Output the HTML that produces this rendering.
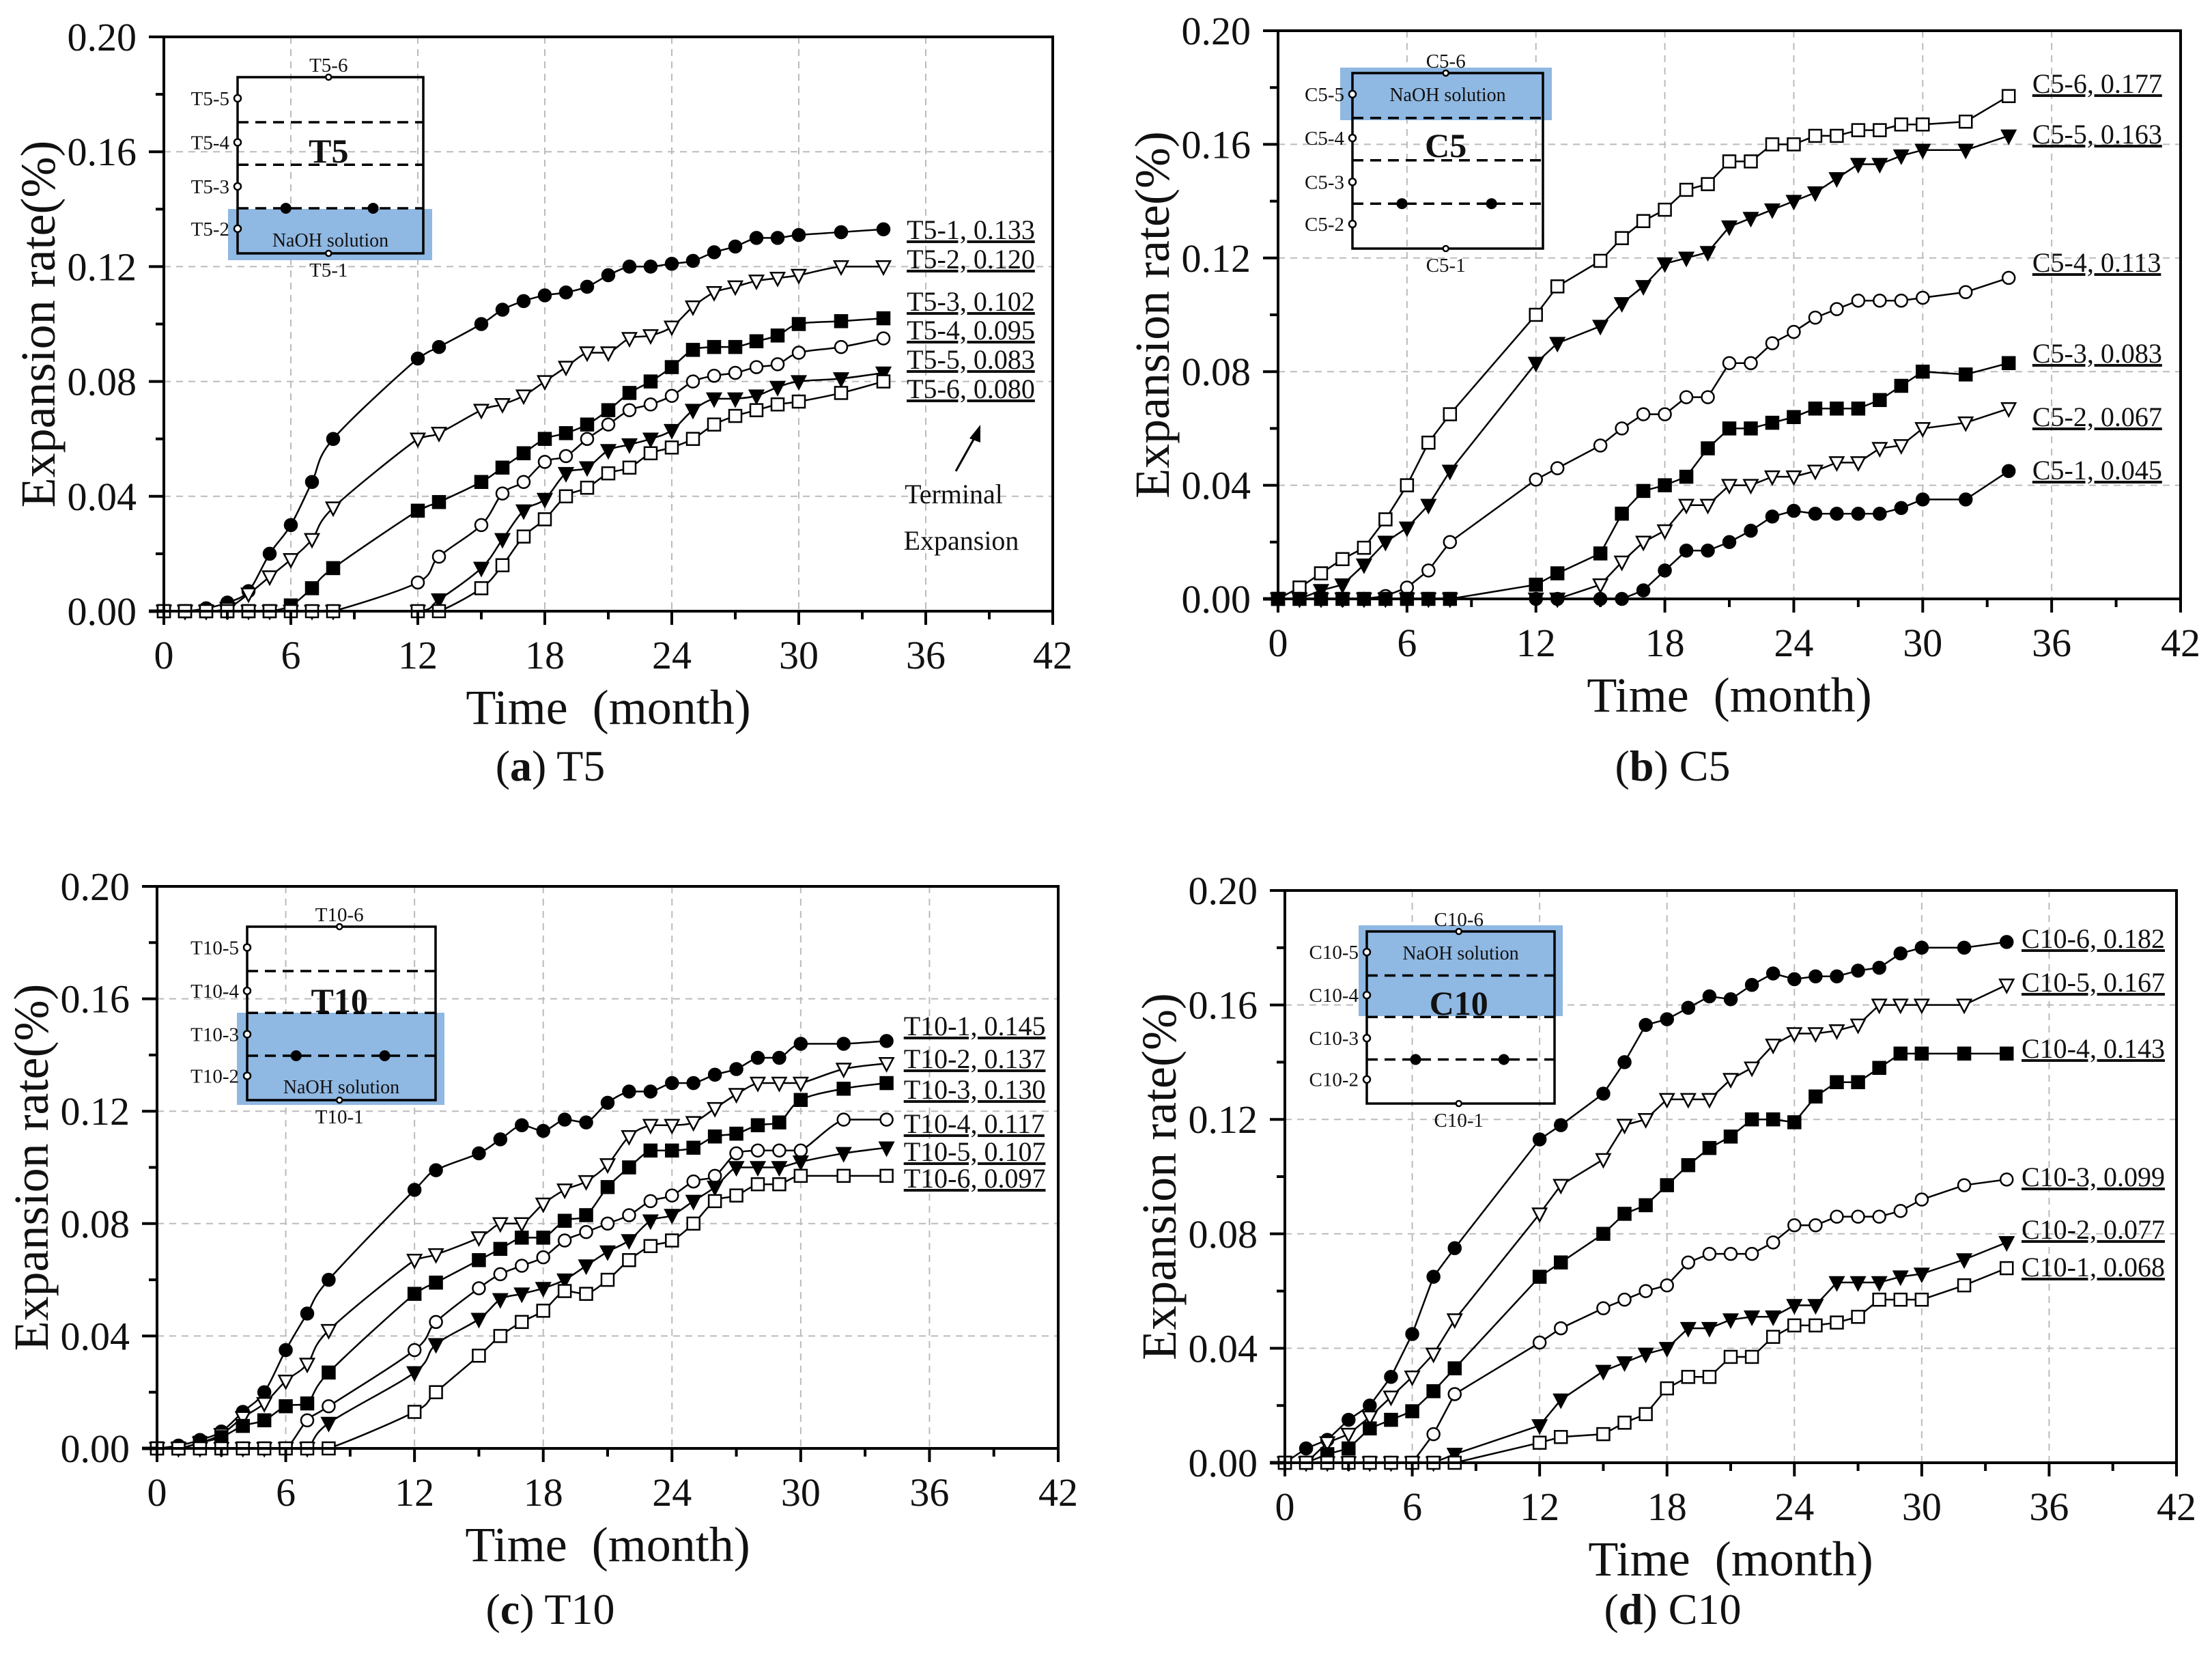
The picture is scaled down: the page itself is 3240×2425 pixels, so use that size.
<!DOCTYPE html>
<html><head><meta charset="utf-8">
<style>
html,body{margin:0;padding:0;background:#fff;}
svg{display:block;}
text{font-family:"Liberation Serif",serif;fill:#111;}
</style></head>
<body>
<svg id="fig" width="3240" height="2425" viewBox="0 0 3240 2425" xmlns="http://www.w3.org/2000/svg"></svg>
<script>
// ---------- data ----------
const months = [0,1,2,3,4,5,6,7,8,12,13,15,16,17,18,19,20,21,22,23,24,25,26,27,28,29,30,32,34];
const xTicks = [0,6,12,18,24,30,36,42];
const yTicks = [0,0.04,0.08,0.12,0.16,0.20];
const yTickLabels = ["0.00","0.04","0.08","0.12","0.16","0.20"];

// (a) T5
const t5_1 = [0,0,0.001,0.003,0.007,0.02,0.03,0.045,0.06,0.088,0.092,0.1,0.105,0.108,0.11,0.111,0.113,0.117,0.12,0.12,0.121,0.122,0.125,0.127,0.13,0.13,0.131,0.132,0.133];
const t5_2 = [0,0,0,0.001,0.006,0.012,0.018,0.025,0.036,0.06,0.062,0.07,0.072,0.075,0.08,0.085,0.09,0.09,0.095,0.096,0.099,0.106,0.111,0.113,0.115,0.116,0.117,0.12,0.12];
const t5_3 = [0,0,0,0,0,0,0.002,0.008,0.015,0.035,0.038,0.045,0.05,0.055,0.06,0.062,0.065,0.07,0.076,0.08,0.085,0.091,0.092,0.092,0.094,0.096,0.1,0.101,0.102];
const t5_4 = [0,0,0,0,0,0,0,0,0,0.01,0.019,0.03,0.041,0.045,0.052,0.054,0.06,0.065,0.07,0.072,0.075,0.08,0.082,0.083,0.085,0.086,0.09,0.092,0.095];
const t5_5 = [0,0,0,0,0,0,0,0,0,0,0.004,0.015,0.025,0.035,0.039,0.048,0.05,0.056,0.058,0.06,0.063,0.07,0.074,0.074,0.075,0.078,0.08,0.081,0.083];
const t5_6 = [0,0,0,0,0,0,0,0,0,0,0,0.008,0.016,0.026,0.032,0.04,0.043,0.048,0.05,0.055,0.057,0.06,0.065,0.068,0.07,0.072,0.073,0.076,0.08];
const t5Names = ["T5-1, 0.133","T5-2, 0.120","T5-3, 0.102","T5-4, 0.095","T5-5, 0.083","T5-6, 0.080"];

// (b) C5
const c5_6 = [0,0.004,0.009,0.014,0.018,0.028,0.04,0.055,0.065,0.1,0.11,0.119,0.127,0.133,0.137,0.144,0.146,0.154,0.154,0.16,0.16,0.163,0.163,0.165,0.165,0.167,0.167,0.168,0.177];
const c5_5 = [0,0,0.003,0.005,0.012,0.02,0.025,0.033,0.045,0.083,0.09,0.096,0.104,0.11,0.118,0.12,0.122,0.131,0.134,0.137,0.14,0.143,0.148,0.153,0.153,0.156,0.158,0.158,0.163];
const c5_4 = [0,0,0,0,0,0.001,0.004,0.01,0.02,0.042,0.046,0.054,0.06,0.065,0.065,0.071,0.071,0.083,0.083,0.09,0.094,0.099,0.102,0.105,0.105,0.105,0.106,0.108,0.113];
const c5_3 = [0,0,0,0,0,0,0,0,0,0.005,0.009,0.016,0.03,0.038,0.04,0.043,0.053,0.06,0.06,0.062,0.064,0.067,0.067,0.067,0.07,0.075,0.08,0.079,0.083];
const c5_2 = [0,0,0,0,0,0,0,0,0,0,0,0.005,0.013,0.02,0.024,0.033,0.033,0.04,0.04,0.043,0.043,0.045,0.048,0.048,0.053,0.054,0.06,0.062,0.067];
const c5_1 = [0,0,0,0,0,0,0,0,0,0,0,0,0,0.003,0.01,0.017,0.017,0.02,0.024,0.029,0.031,0.03,0.03,0.03,0.03,0.032,0.035,0.035,0.045];
const c5Names = ["C5-6, 0.177","C5-5, 0.163","C5-4, 0.113","C5-3, 0.083","C5-2, 0.067","C5-1, 0.045"];

// (c) T10
const t10_1 = [0,0.001,0.003,0.006,0.013,0.02,0.035,0.048,0.06,0.092,0.099,0.105,0.11,0.115,0.113,0.117,0.116,0.123,0.127,0.127,0.13,0.13,0.133,0.135,0.139,0.139,0.144,0.144,0.145];
const t10_2 = [0,0,0.002,0.005,0.011,0.016,0.024,0.03,0.042,0.067,0.069,0.075,0.08,0.08,0.087,0.092,0.095,0.101,0.111,0.115,0.115,0.116,0.121,0.126,0.13,0.13,0.13,0.135,0.137];
const t10_3 = [0,0,0.002,0.004,0.008,0.01,0.015,0.016,0.027,0.055,0.059,0.067,0.071,0.075,0.075,0.081,0.083,0.093,0.1,0.106,0.106,0.107,0.111,0.112,0.115,0.116,0.124,0.128,0.13];
const t10_4 = [0,0,0,0,0,0,0,0.01,0.015,0.035,0.045,0.057,0.062,0.065,0.068,0.074,0.077,0.08,0.083,0.088,0.09,0.095,0.097,0.105,0.106,0.106,0.106,0.117,0.117];
const t10_5 = [0,0,0,0,0,0,0,0,0.009,0.027,0.037,0.046,0.053,0.055,0.057,0.06,0.065,0.07,0.074,0.081,0.083,0.088,0.093,0.1,0.1,0.1,0.102,0.105,0.107];
const t10_6 = [0,0,0,0,0,0,0,0,0,0.013,0.02,0.033,0.04,0.045,0.049,0.056,0.055,0.06,0.067,0.072,0.074,0.08,0.088,0.09,0.094,0.094,0.097,0.097,0.097];
const t10Names = ["T10-1, 0.145","T10-2, 0.137","T10-3, 0.130","T10-4, 0.117","T10-5, 0.107","T10-6, 0.097"];

// (d) C10
const c10_6 = [0,0.005,0.008,0.015,0.02,0.03,0.045,0.065,0.075,0.113,0.118,0.129,0.14,0.153,0.155,0.159,0.163,0.162,0.167,0.171,0.169,0.17,0.17,0.172,0.173,0.178,0.18,0.18,0.182];
const c10_5 = [0,0,0.007,0.01,0.016,0.023,0.03,0.038,0.05,0.087,0.097,0.106,0.118,0.12,0.127,0.127,0.127,0.134,0.138,0.146,0.15,0.15,0.151,0.153,0.16,0.16,0.16,0.16,0.167];
const c10_4 = [0,0,0.003,0.005,0.012,0.015,0.018,0.025,0.033,0.065,0.07,0.08,0.087,0.09,0.097,0.104,0.11,0.114,0.12,0.12,0.119,0.128,0.133,0.133,0.138,0.143,0.143,0.143,0.143];
const c10_3 = [0,0,0,0,0,0,0,0.01,0.024,0.042,0.047,0.054,0.057,0.06,0.062,0.07,0.073,0.073,0.073,0.077,0.083,0.083,0.086,0.086,0.086,0.088,0.092,0.097,0.099];
const c10_2 = [0,0,0,0,0,0,0,0,0.003,0.013,0.022,0.032,0.035,0.038,0.04,0.047,0.047,0.05,0.051,0.051,0.055,0.055,0.063,0.063,0.063,0.065,0.066,0.071,0.077];
const c10_1 = [0,0,0,0,0,0,0,0,0,0.007,0.009,0.01,0.014,0.017,0.026,0.03,0.03,0.037,0.037,0.044,0.048,0.048,0.049,0.051,0.057,0.057,0.057,0.062,0.068];
const c10Names = ["C10-6, 0.182","C10-5, 0.167","C10-4, 0.143","C10-3, 0.099","C10-2, 0.077","C10-1, 0.068"];

// ---------- drawing ----------
const NS = "http://www.w3.org/2000/svg";
const svg = document.getElementById('fig');
function mk(tag, attrs, parent){
  const e = document.createElementNS(NS, tag);
  for (const k in attrs) e.setAttribute(k, attrs[k]);
  (parent||svg).appendChild(e);
  return e;
}

function marker(g, type, x, y){
  const r = 9;
  const filled = type.endsWith('F');
  const fill = filled ? '#000' : '#fff';
  let m;
  if (type.startsWith('circ')) m = mk('circle',{cx:x,cy:y,r:r,fill:fill,stroke:'#000','stroke-width':2.5},g);
  else if (type.startsWith('sq')) m = mk('rect',{x:x-r,y:y-r,width:2*r,height:2*r,fill:fill,stroke:'#000','stroke-width':2.5},g);
  else m = mk('polygon',{points:`${x-r-1},${y-r+1} ${x+r+1},${y-r+1} ${x},${y+r+2}`,fill:fill,stroke:'#000','stroke-width':2.5},g);
  
  
}

function smoothPath(pts){
  let d = `M${pts[0][0]},${pts[0][1]}`;
  for (let i=0;i<pts.length-1;i++){
    const p0 = pts[Math.max(0,i-1)], p1 = pts[i], p2 = pts[i+1], p3 = pts[Math.min(pts.length-1,i+2)];
    let c1x = p1[0]+(p2[0]-p0[0])/6, c1y = p1[1]+(p2[1]-p0[1])/6;
    let c2x = p2[0]-(p3[0]-p1[0])/6, c2y = p2[1]-(p3[1]-p1[1])/6;
    const lo = Math.max(p1[1],p2[1]), hi = Math.min(p1[1],p2[1]);
    c1y = Math.min(lo,Math.max(hi,c1y)); c2y = Math.min(lo,Math.max(hi,c2y));
    d += ` C${c1x},${c1y} ${c2x},${c2y} ${p2[0]},${p2[1]}`;
  }
  return d;
}

function panel(cfg){
  const g = mk('g',{});
  
  
  const L=cfg.L,R=cfg.R,T=cfg.T,B=cfg.B;
  const sx = v => L + v/42*(R-L);
  const sy = v => B - v/0.2*(B-T);
  xTicks.forEach(t=>{ if(t>0&&t<42){ const l=mk('line',{x1:sx(t),x2:sx(t),y1:T,y2:B,stroke:'#bbb','stroke-width':2,'stroke-dasharray':'10,8'},g);   }});
  yTicks.forEach(t=>{ if(t>0&&t<0.2){ const l=mk('line',{x1:L,x2:R,y1:sy(t),y2:sy(t),stroke:'#bbb','stroke-width':2,'stroke-dasharray':'10,8'},g);   }});
  inset(g, cfg.inset);
  cfg.series.forEach((s,i)=>{
    const pts = months.map((m,j)=>[sx(m), sy(s.y[j])]);
    const d = cfg.smooth ? smoothPath(pts) : 'M'+pts.map(p=>p.join(',')).join(' L');
    const p = mk('path',{d:d,fill:'none',stroke:'#000','stroke-width':2.5},g);
    
    
    pts.forEach(pt=>marker(g, s.m, pt[0], pt[1]));
    const t = mk('text',{x:sx(cfg.labelX), y:cfg.labelY[i], 'font-size':40, 'text-decoration':'underline'},g);
    t.textContent = cfg.names[i];
    
    
  });
  const fr = mk('rect',{x:L,y:T,width:R-L,height:B-T,fill:'none',stroke:'#000','stroke-width':4},g);
  
  
  mk('line',{x1:L-22,x2:L,y1:B,y2:B,stroke:'#000','stroke-width':5},g);
  mk('line',{x1:L-22,x2:L,y1:T,y2:T,stroke:'#000','stroke-width':4},g);
  for(let m=0;m<=42;m+=3){
    const major = m%6===0;
    mk('line',{x1:sx(m),x2:sx(m),y1:B,y2:B+(major?20:12),stroke:'#000','stroke-width':4},g);
  }
  xTicks.forEach(t=>{
    const tx = mk('text',{x:sx(t),y:B+84,'font-size':58,'text-anchor':'middle'},g);
    tx.textContent = t;
    
    
  });
  for(let v=0;v<=0.2001;v+=0.02){
    const major = Math.round(v*100)%4===0;
    mk('line',{x1:L-(major?22:12),x2:L,y1:sy(v),y2:sy(v),stroke:'#000','stroke-width':4},g);
  }
  yTicks.forEach((t,i)=>{
    const ty = mk('text',{x:L-40,y:sy(t)+20,'font-size':58,'text-anchor':'end'},g);
    ty.textContent = yTickLabels[i];
    
    
  });
  const xt = mk('text',{x:(L+R)/2,y:B+165,'font-size':72,'text-anchor':'middle'},g);
  xt.textContent = 'Time\u00a0 (month)';
  
  
  const yt = mk('text',{x:0,y:0,'font-size':72,'text-anchor':'middle',transform:`translate(${L-160},${(T+B)/2}) rotate(-90)`},g);
  yt.textContent = 'Expansion rate(%)';
  
  
  const cap = mk('text',{x:cfg.capX,y:cfg.capY,'font-size':64,'text-anchor':'middle'},g);
  
  
  const b1 = mk('tspan',{},cap); b1.textContent='(';
  const b2 = mk('tspan',{'font-weight':'bold'},cap); b2.textContent=cfg.letter;
  const b3 = mk('tspan',{},cap); b3.textContent=') '+cfg.title;
}

function inset(g, c){
  const ig = mk('g',{},g);
  
  
  const bl = mk('rect',{x:c.bx1,y:c.by1,width:c.bx2-c.bx1,height:c.by2-c.by1,fill:'#8fb8e2'},ig);
  
  
  const w=c.x2-c.x1,h=c.y2-c.y1;
  mk('rect',{x:c.x1,y:c.y1,width:w,height:h,fill:'none',stroke:'#000','stroke-width':3.5},ig);
  [0.256,0.497,0.744].forEach(f=>mk('line',{x1:c.x1,x2:c.x2,y1:c.y1+f*h,y2:c.y1+f*h,stroke:'#000','stroke-width':3.5,'stroke-dasharray':'16,10'},ig));
  [0.26,0.73].forEach(f=>mk('circle',{cx:c.x1+f*w,cy:c.y1+0.744*h,r:8,fill:'#000'},ig));
  const fr=[0.12,0.37,0.62,0.86];
  fr.forEach((f,i)=>{
    mk('circle',{cx:c.x1,cy:c.y1+f*h,r:5,fill:'#fff',stroke:'#000','stroke-width':2.5},ig);
    const t=mk('text',{x:c.x1-12,y:c.y1+f*h+10,'font-size':29,'text-anchor':'end'},ig);
    t.textContent=c.p+'-'+(5-i);
  });
  mk('circle',{cx:c.x1+0.49*w,cy:c.y1,r:4,fill:'#fff',stroke:'#000','stroke-width':2.5},ig);
  mk('circle',{cx:c.x1+0.49*w,cy:c.y2,r:4,fill:'#fff',stroke:'#000','stroke-width':2.5},ig);
  let t=mk('text',{x:c.x1+0.49*w,y:c.y1-8,'font-size':29,'text-anchor':'middle'},ig); t.textContent=c.p+'-6';
  t=mk('text',{x:c.x1+0.49*w,y:c.y2+34,'font-size':29,'text-anchor':'middle'},ig); t.textContent=c.p+'-1';
  t=mk('text',{x:c.x1+0.49*w,y:c.nameY,'font-size':50,'font-weight':'bold','text-anchor':'middle'},ig); t.textContent=c.p;
  t=mk('text',{x:c.x1+0.5*w,y:c.naohY,'font-size':28,'text-anchor':'middle'},ig); t.textContent='NaOH solution';
}

panel({name:'panel-a-t5',L:240,R:1542,T:54,B:895,smooth:true,letter:'a',title:'T5',capX:806,capY:1143,
  labelX:35.1,labelY:[350,393,455,497,540,583],names:t5Names,
  series:[{y:t5_1,m:'circF'},{y:t5_2,m:'triO'},{y:t5_3,m:'sqF'},{y:t5_4,m:'circO'},{y:t5_5,m:'triF'},{y:t5_6,m:'sqO'}],
  inset:{x1:348,x2:620,y1:113,y2:371,bx1:334,bx2:633,by1:306,by2:381,p:'T5',nameY:238,naohY:361}});
panel({name:'panel-b-c5',L:1872,R:3194,T:45,B:877,smooth:false,letter:'b',title:'C5',capX:2450,capY:1143,
  labelX:35.1,labelY:[136,210,398,531,624,702],names:c5Names,
  series:[{y:c5_6,m:'sqO'},{y:c5_5,m:'triF'},{y:c5_4,m:'circO'},{y:c5_3,m:'sqF'},{y:c5_2,m:'triO'},{y:c5_1,m:'circF'}],
  inset:{x1:1981,x2:2260,y1:107,y2:364,bx1:1963,bx2:2273,by1:99,by2:176,p:'C5',nameY:230,naohY:148}});
panel({name:'panel-c-t10',L:230,R:1550,T:1298,B:2121,smooth:true,letter:'c',title:'T10',capX:806,capY:2378,
  labelX:34.8,labelY:[1516,1564,1609,1659,1700,1739],names:t10Names,
  series:[{y:t10_1,m:'circF'},{y:t10_2,m:'triO'},{y:t10_3,m:'sqF'},{y:t10_4,m:'circO'},{y:t10_5,m:'triF'},{y:t10_6,m:'sqO'}],
  inset:{x1:362,x2:638,y1:1357,y2:1611,bx1:347,bx2:651,by1:1483,by2:1618,p:'T10',nameY:1482,naohY:1601}});
panel({name:'panel-d-c10',L:1882,R:3188,T:1304,B:2142,smooth:false,letter:'d',title:'C10',capX:2450,capY:2378,
  labelX:34.7,labelY:[1388,1452,1549,1737,1814,1869],names:c10Names,
  series:[{y:c10_6,m:'circF'},{y:c10_5,m:'triO'},{y:c10_4,m:'sqF'},{y:c10_3,m:'circO'},{y:c10_2,m:'triF'},{y:c10_1,m:'sqO'}],
  inset:{x1:2002,x2:2277,y1:1364,y2:1616,bx1:1990,bx2:2289,by1:1355,by2:1488,p:'C10',nameY:1486,naohY:1405}});

const an = mk('g',{});


mk('line',{x1:1400,y1:690,x2:1428,y2:640,stroke:'#000','stroke-width':3},an);
mk('polygon',{points:'1436,622 1420,642 1436,648',fill:'#000'},an);
let ta = mk('text',{x:1397,y:737,'font-size':40,'text-anchor':'middle'},an); ta.textContent='Terminal';
ta = mk('text',{x:1408,y:805,'font-size':40,'text-anchor':'middle'},an); ta.textContent='Expansion';
</script>
</body></html>
